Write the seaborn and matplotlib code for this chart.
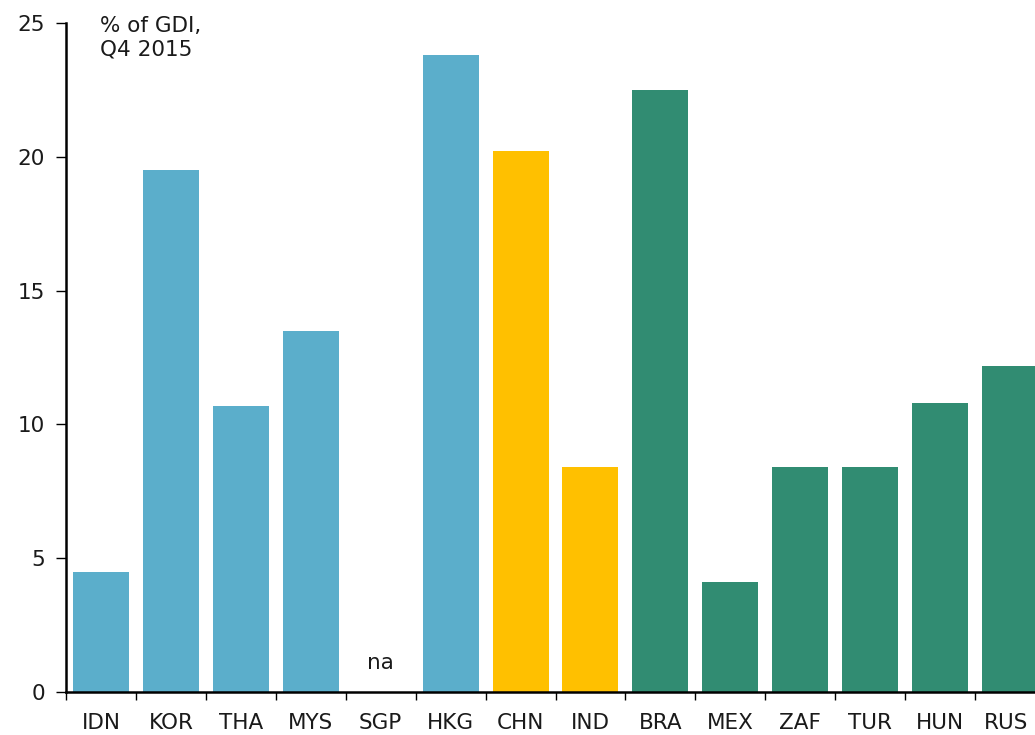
import matplotlib
matplotlib.use("Agg")
import matplotlib.pyplot as plt
import matplotlib.transforms as mtransforms
import seaborn as sns
import numpy as np
import pandas as pd

categories = ["IDN", "KOR", "THA", "MYS", "SGP", "HKG", "CHN", "IND", "BRA", "MEX", "ZAF", "TUR", "HUN", "RUS"]
values = [4.5, 19.5, 10.7, 13.5, np.nan, 23.8, 20.2, 8.4, 22.5, 4.1, 8.4, 8.4, 10.8, 12.2]
groups = ["Asia", "Asia", "Asia", "Asia", "Asia", "Asia", "China/India", "China/India",
          "Other", "Other", "Other", "Other", "Other", "Other"]
palette = {"Asia": "#5BAECB", "China/India": "#FFC000", "Other": "#318C72"}

sns.set_theme(style="white")
plt.rcParams["font.family"] = ["DejaVu Sans"]

df = pd.DataFrame({"cat": categories, "val": values, "grp": groups})

fig = plt.figure(figsize=(10.35, 7.35), dpi=100)
ax = fig.add_axes([66/1035, 43/735, 979/1035, 669/735])
sns.barplot(data=df, x="cat", y="val", hue="grp", palette=palette, dodge=False,
            width=0.8, saturation=1, legend=False, ax=ax, order=categories,
            linewidth=0, edgecolor="none")

ax.set_xlim(-0.5, len(categories) - 0.5)
ax.set_ylim(0, 25)
ax.set_yticks([0, 5, 10, 15, 20, 25])
ax.set_xlabel("")
ax.set_ylabel("")
for s in ["top", "right"]:
    ax.spines[s].set_visible(False)
for s in ["left", "bottom"]:
    ax.spines[s].set_color("black")
    ax.spines[s].set_linewidth(1.8)

ax.tick_params(axis="y", which="major", direction="out", length=7, width=1, color="black",
               labelsize=15.5, pad=8, left=True)
ax.tick_params(axis="x", which="major", length=0, labelsize=15.5, pad=15)
ax.set_xticks(np.arange(-0.5, len(categories) - 0.4, 1), minor=True)
ax.tick_params(axis="x", which="minor", direction="out", length=6, width=1, color="black", bottom=True)
for lbl in ax.get_xticklabels() + ax.get_yticklabels():
    lbl.set_color("#1a1a1a")
last = ax.get_xticklabels()[-1]
last.set_transform(last.get_transform() + mtransforms.ScaledTranslation(-4/100, 0, fig.dpi_scale_trans))

ax.text(categories.index("SGP"), 1.1, "na", ha="center", va="center", fontsize=15.5, color="#1a1a1a")
fig.text(100/1035, 1 - 16/735, "% of GDI,\nQ4 2015", ha="left", va="top", fontsize=15.5,
         color="#1a1a1a", linespacing=1.2)

fig.savefig("out.png", dpi=100)
